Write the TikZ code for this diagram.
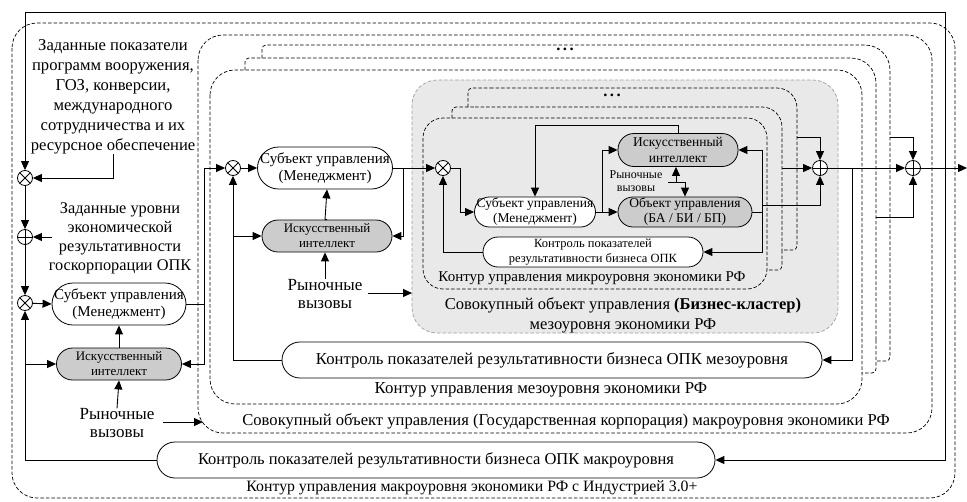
\documentclass[tikz,border=0pt]{standalone}
\usepackage{fontspec}
\setmainfont{Liberation Serif}
\usetikzlibrary{arrows.meta}
\newcommand\szA{\fontsize{16.6}{20}\selectfont}
\newcommand\szB{\fontsize{15}{17}\selectfont}
\newcommand\szC{\fontsize{13}{15}\selectfont}
\newcommand\szD{\fontsize{12}{13}\selectfont}
\newcommand\szE{\fontsize{17}{17.5}\selectfont}
\begin{document}
\begin{tikzpicture}[x=1pt,y=-1pt,
  fr/.style={draw=black, line width=0.7pt, dash pattern=on 3.5pt off 2pt},
  grayfr/.style={draw=gray!75, line width=0.7pt, dash pattern=on 3.5pt off 2pt, fill=gray!17},
  conn/.style={draw, line width=0.9pt, -{Triangle[length=9pt,width=8pt]}},
  ln/.style={draw, line width=0.9pt},
  pill/.style={draw, line width=0.8pt, inner sep=0pt, align=center, fill=white},
  aipill/.style={pill, fill=gray!40},
  txt/.style={align=center, inner sep=0pt},
  mul/.style={circle, draw, fill=white, line width=0.8pt, minimum size=15pt, inner sep=0pt,
    path picture={\draw[line width=0.8pt] (path picture bounding box.south west) -- (path picture bounding box.north east)
      (path picture bounding box.north west) -- (path picture bounding box.south east);}},
  add/.style={circle, draw, fill=white, line width=0.8pt, minimum size=15pt, inner sep=0pt,
    path picture={\draw[line width=0.8pt] (path picture bounding box.north) -- (path picture bounding box.south)
      (path picture bounding box.west) -- (path picture bounding box.east);}}
]
\useasboundingbox (0,0) rectangle (967,501);

% ---------- frames ----------
\draw[fr, rounded corners=25] (12,23) rectangle (955,498);
\draw[fr, rounded corners=25] (198,35) rectangle (932,433);
% meso shadows
\draw[fr, rounded corners=4] (262,58) -- (262,45) -- (300,45);
\draw[fr, rounded corners=25] (300,45) -- (890,45) -- (890,330);
\draw[fr, rounded corners=4] (890,330) -- (890,361) -- (876,361);
\draw[fr, rounded corners=4] (245,70) -- (245,58) -- (280,58);
\draw[fr, rounded corners=25] (280,58) -- (876,58) -- (876,340);
\draw[fr, rounded corners=4] (876,340) -- (876,373) -- (862,373);
\draw[fr, rounded corners=25] (210,70) rectangle (862,404);
% gray region
\draw[grayfr, rounded corners=25] (412,80) rectangle (838,333);
% micro shadows
\draw[fr, rounded corners=4] (468,107) -- (468,88) -- (490,88);
\draw[fr, rounded corners=20] (490,88) -- (797,88) -- (797,230);
\draw[fr, rounded corners=4] (797,230) -- (797,250) -- (782,250);
\draw[fr, rounded corners=4] (452,118) -- (452,107) -- (475,107);
\draw[fr, rounded corners=20] (475,107) -- (782,107) -- (782,250);
\draw[fr, rounded corners=4] (782,250) -- (782,270) -- (767,270);
\draw[fr, rounded corners=20] (423,118) rectangle (767,289);

% dots
\node[txt, font=\szA\bfseries] (dots1) at (565,49) {.\hspace{2.5pt}.\hspace{2.5pt}.};
\node[txt, font=\szA\bfseries] (dots2) at (612,95) {.\hspace{2.5pt}.\hspace{2.5pt}.};

% ---------- labels ----------
\node[txt, font=\fontsize{15.8}{18}\selectfont] (lF1) at (472,488) {Контур управления макроуровня экономики РФ с Индустрией 3.0+};
\node[txt, font=\szA] (lF2) at (566,421) {Совокупный объект управления (Государственная корпорация) макроуровня экономики РФ};
\node[txt, font=\fontsize{16.8}{18}\selectfont] (lMeso) at (541,390) {Контур управления мезоуровня экономики РФ};
\node[txt, font=\fontsize{16.5}{20}\selectfont] (lGray) at (623,315) {Совокупный объект управления \textbf{(Бизнес-кластер)}\\мезоуровня экономики РФ};
\node[txt, font=\fontsize{15}{17}\selectfont] (lMicro) at (592,278) {Контур управления микроуровня экономики РФ};

% ---------- macro level ----------
\node[txt, font=\fontsize{16.6}{20}\selectfont] (Tgoal) at (113,97) {Заданные показатели\\программ вооружения,\\ГОЗ, конверсии,\\международного\\сотрудничества и их\\ресурсное обеспечение};
\node[txt, font=\fontsize{16.3}{19}\selectfont] (Tlev) at (120,238) {Заданные уровни\\экономической\\результативности\\госкорпорации ОПК};
\node[mul] (X1) at (25,178) {};
\node[add] (P0) at (25,237) {};
\node[mul] (X2) at (25,303) {};
\node[pill, font=\szB, minimum width=134pt, minimum height=42pt, rounded corners=21pt] (Smac) at (119,304) {Субъект управления\\(Менеджмент)};
\node[aipill, font=\szC, minimum width=125pt, minimum height=32pt, rounded corners=16pt] (AImac) at (119,364) {Искусственный\\интеллект};
\node[txt, font=\szE] (RVmac) at (117,423) {Рыночные\\вызовы};
\node[pill, font=\fontsize{16.5}{18}\selectfont, minimum width=558pt, minimum height=36pt, rounded corners=18pt] (Cmac) at (436,460) {Контроль показателей результативности бизнеса ОПК макроуровня};

% ---------- meso level ----------
\node[mul] (X3) at (233,168) {};
\node[pill, font=\szB, minimum width=135pt, minimum height=42pt, rounded corners=21pt] (Smes) at (325,168) {Субъект управления\\(Менеджмент)};
\node[aipill, font=\szC, minimum width=130pt, minimum height=32pt, rounded corners=16pt] (AImes) at (327,236) {Искусственный\\интеллект};
\node[txt, font=\szE] (RVmes) at (325,294) {Рыночные\\вызовы};
\node[pill, font=\fontsize{16.7}{18}\selectfont, minimum width=540pt, minimum height=36pt, rounded corners=18pt] (Cmes) at (552,360) {Контроль показателей результативности бизнеса ОПК мезоуровня};

% ---------- micro level ----------
\node[mul] (X4) at (443,168) {};
\node[pill, font=\fontsize{13.5}{15}\selectfont, minimum width=121pt, minimum height=30pt, rounded corners=15pt] (Smic) at (535,212) {Субъект управления\\(Менеджмент)};
\node[aipill, font=\fontsize{13.5}{16}\selectfont, minimum width=120pt, minimum height=33pt, rounded corners=16pt] (AImic) at (678,150) {Искусственный\\интеллект};
\node[aipill, font=\fontsize{13.5}{15}\selectfont, minimum width=134pt, minimum height=30pt, rounded corners=15pt] (Omic) at (685,212) {Объект управления\\(БА / БИ / БП)};
\node[pill, font=\fontsize{12.5}{15}\selectfont, minimum width=220pt, minimum height=30pt, rounded corners=15pt] (Cmic) at (593,252) {Контроль показателей\\результативности бизнеса ОПК};
\node[txt, font=\szD] (RVmic) at (636,181) {Рыночные\\вызовы};
\node[add] (P1) at (820,168) {};
\node[add] (P2) at (913,168) {};

% ---------- coordinates ----------
\coordinate (out) at (967,168);
\coordinate (fb) at (945,168);
\coordinate (topL) at (25,12);
\coordinate (tl) at (52,237);
\coordinate (vM) at (204,304);
\coordinate (rvA) at (163,422);
\coordinate (rvB) at (203,422);
\coordinate (vm) at (403,168);
\coordinate (rvC) at (368,293);
\coordinate (rvD) at (412,293);
\coordinate (mA) at (460,168);
\coordinate (mB) at (602,212);
\coordinate (rmL) at (668,182);
\coordinate (rmU) at (676,182);
\coordinate (rmD) at (685,182);
\coordinate (oJ) at (762,205);
\coordinate (s2m) at (782,168);
\coordinate (s3m) at (797,137);
\coordinate (jP) at (852,168);
\coordinate (s3M) at (890,137);
\coordinate (s2M) at (876,217);

% ---------- connectors: macro ----------
\draw[conn] (fb) |- (topL) -- (X1);
\draw[conn] (fb) |- (Cmac.east);
\draw[conn] (Tgoal.south) |- (X1);
\draw[conn] (X1) -- (P0);
\draw[conn] (tl) -- (P0);
\draw[conn] (P0) -- (X2);
\draw[conn] (Cmac.west) -| (X2.south);
\draw[conn] (X2 |- AImac) -- (AImac.west);
\draw[conn] (X2) -- (Smac.west);
\draw[conn] (AImac.north) -- (Smac.south);
\draw[conn] (RVmac.north) -- (AImac.south);
\draw[conn] (rvA) -- (rvB);
\draw[ln] (Smac.east) -- (vM);
\draw[conn] (vM) |- (X3.west);
\draw[conn] (vM) |- (AImac.east);

% ---------- connectors: meso ----------
\draw[conn] (X3) -- (Smes.west);
\draw[conn] (Cmes.west) -| (X3.south);
\draw[conn] (X3 |- AImes) -- (AImes.west);
\draw[conn] (AImes.north) -- (Smes.south |- AImes.north) -- (Smes.south -| AImes.north);
\draw[conn] (RVmes.north) -- (AImes.south -| RVmes.north);
\draw[conn] (rvC) -- (rvD);
\draw[conn] (Smes.east) -- (X4.west);
\draw[conn] (vm) |- (AImes.east);

% ---------- connectors: micro ----------
\draw[conn] (X4.east) -- (mA) |- (Smic.west);
\draw[conn] (Cmic.west) -| (X4.south);
\draw[conn] (AImic.north) -- ++(0,-8) -| (Smic.north);
\draw[conn] (Smic.east) -- (Omic.west);
\draw[conn] (mB) |- (AImic.west);
\draw[ln] (rmL) -- (rmD);
\draw[conn] (rmU) -- (rmU |- AImic.south);
\draw[conn] (rmD) -- (rmD |- Omic.north);
\draw[ln] (Omic.east) -- (oJ |- Omic.east);
\draw[conn] (oJ) |- (AImic.east);
\draw[conn] (oJ) |- (Cmic.east);
\draw[conn] (oJ) -| (P1.south);
\draw[conn] (s2m) -- (P1.west);
\draw[conn] (s3m) -| (P1.north);
\draw[conn] (P1.east) -- (P2.west);
\draw[conn] (jP) |- (Cmes.east);
\draw[conn] (s3M) -| (P2.north);
\draw[conn] (s2M) -| (P2.south);
\draw[conn] (P2.east) -- (out);
\end{tikzpicture}
\end{document}
